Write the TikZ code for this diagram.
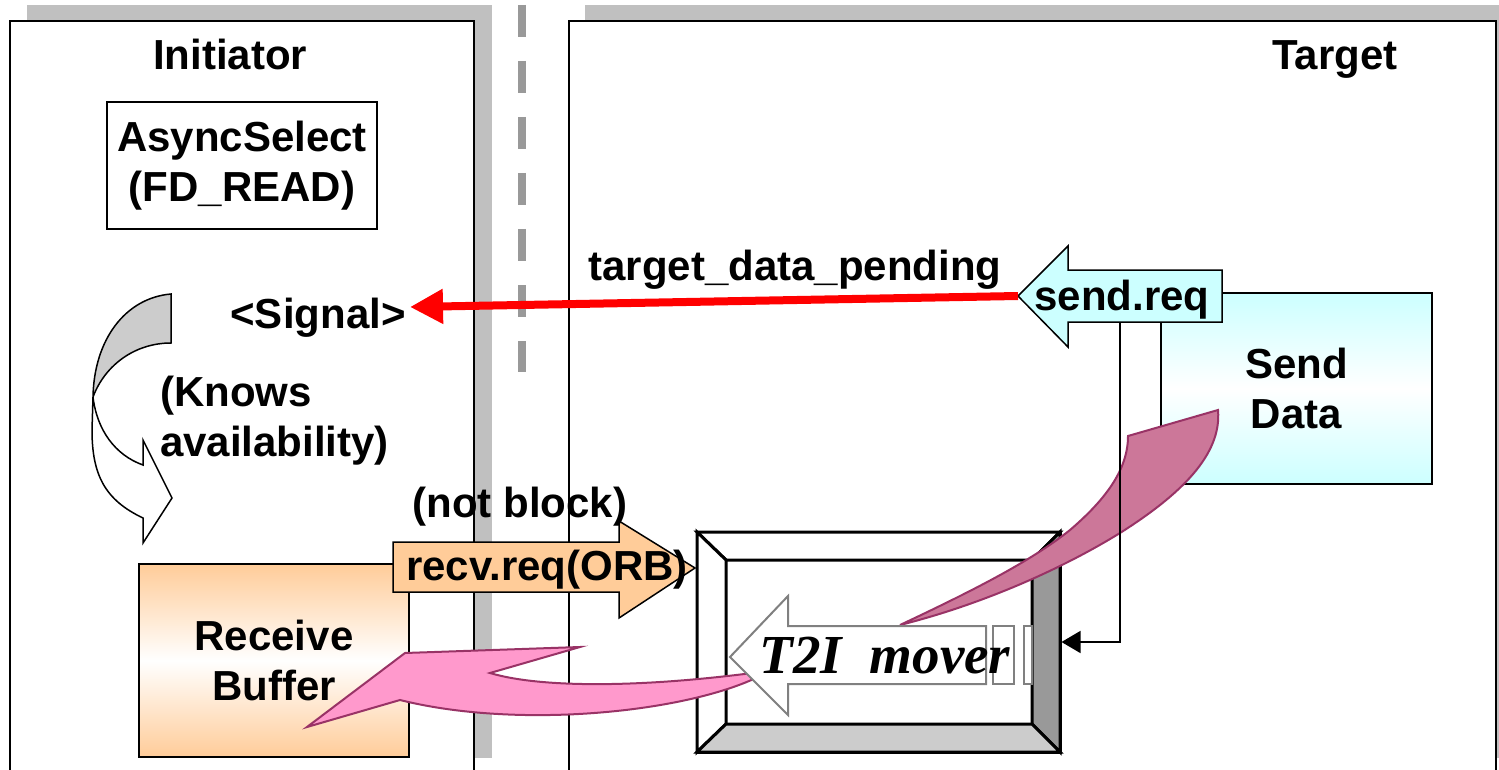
\documentclass[tikz,border=0pt]{standalone}
\usepackage{fontspec}
\setmainfont{Liberation Sans}
\newfontfamily\tmfont{Liberation Serif}
\usetikzlibrary{arrows.meta}
\definecolor{shadowgray}{HTML}{C0C0C0}
\definecolor{dashgray}{HTML}{999999}
\definecolor{bevdark}{HTML}{999999}
\definecolor{bevlight}{HTML}{CCCCCC}
\definecolor{cyanfill}{HTML}{CCFFFF}
\definecolor{orangefill}{HTML}{FFCC99}
\definecolor{mauve}{HTML}{CC7799}
\definecolor{pinkfill}{HTML}{FF99CC}
\definecolor{pinkline}{HTML}{993366}
\definecolor{arrowgray}{HTML}{808080}
\definecolor{sigred}{HTML}{FF0000}
\begin{document}
\begin{tikzpicture}[x=1pt,y=-1pt,
  lbl/.style={font=\fontsize{42}{50}\selectfont\bfseries, inner sep=0pt},
  panelbox/.style={draw=black, line width=1.8pt, fill=white},
  blockarrow/.style={draw=black, line width=1.5pt, line join=miter},
  swoosh/.style={draw=pinkline, line width=2pt},
  bevel/.style={draw=black, line width=3pt, line join=miter},
  gradbox/.style={lbl, draw=black, line width=1.8pt, align=center},
]
\useasboundingbox (0,0) rectangle (1499,770);
\clip (0,0) rectangle (1499,770);

% panels
\fill[shadowgray] (27,5) rectangle (492,758);
\draw[panelbox] (10,21) rectangle (474,800);
\fill[shadowgray] (585,5) rectangle (1520,758);
\draw[panelbox] (569,21) rectangle (1496,800);
\draw[dashgray, line width=8pt, dash pattern=on 32pt off 24pt] (522,5) -- (522,372);

% boxes
\node[lbl, draw=black, line width=1.5pt, minimum width=270pt, minimum height=127pt, align=center] (async) at (242,165.5) {AsyncSelect\\(FD\_READ)};
\node[gradbox, top color=cyanfill, bottom color=cyanfill, middle color=white, minimum width=271pt, minimum height=191pt] (senddata) at (1296.5,388.5) {Send\\Data};
\node[gradbox, top color=orangefill, bottom color=orangefill, middle color=white, minimum width=270pt, minimum height=193pt] (recvbuf) at (274,660.5) {Receive\\Buffer};

% T2I box with bevel
\node[draw=black, fill=white, line width=3pt, minimum width=363pt, minimum height=220pt, inner sep=0pt] (t2ibox) at (878.5,642) {};
\filldraw[bevel, fill=white] (697,532) -- (1060,532) -- (1032,560) -- (726,560) -- cycle;
\filldraw[bevel, fill=white] (697,532) -- (726,560) -- (726,724) -- (697,752) -- cycle;
\filldraw[bevel, fill=bevdark] (1060,532) -- (1060,752) -- (1032,724) -- (1032,560) -- cycle;
\filldraw[bevel, fill=bevlight] (697,752) -- (1060,752) -- (1032,724) -- (726,724) -- cycle;

% mauve swoosh from Send Data to T2I
\filldraw[swoosh, fill=mauve] (1128,436) -- (1218,410)
  .. controls (1222,455) and (1180,495) .. (1120,533)
  .. controls (1060,570) and (980,605) .. (900,625)
  .. controls (970,592) and (1030,562) .. (1070,530)
  .. controls (1105,500) and (1128,470) .. (1128,436) -- cycle;

% pink swoosh from T2I to Receive Buffer
\filldraw[swoosh, fill=pinkfill] (307,727) -- (405,653) -- (580,647) -- (490,673)
  .. controls (540,688) and (640,688) .. (760,672)
  -- (762,675)
  .. controls (690,712) and (520,730) .. (400,700) -- cycle;

% T2I mover block arrow
\filldraw[draw=arrowgray, fill=white, line width=2pt, line join=miter]
  (730,657) -- (788,596) -- (788,626) -- (986,626) -- (986,684) -- (788,684) -- (788,715) -- cycle;
\filldraw[draw=arrowgray, fill=white, line width=2pt] (993,626) rectangle (1014,684);
\filldraw[draw=arrowgray, fill=white, line width=2pt] (1024,626) rectangle (1032,684);

% recv.req block arrow
\filldraw[blockarrow, fill=orangefill]
  (393,542) -- (619,542) -- (619,521) -- (695,568) -- (619,618) -- (619,592) -- (393,592) -- cycle;

% send.req block arrow
\filldraw[blockarrow, fill=cyanfill]
  (1018,296) -- (1068,246) -- (1068,270) -- (1222,270) -- (1222,322) -- (1068,322) -- (1068,347) -- cycle;

% curved U-turn arrow (Initiator side)
\filldraw[draw=black, line width=1.5pt, fill=bevlight]
  (171,294) .. controls (125,298) and (94,340) .. (93,397)
  .. controls (105,365) and (135,343) .. (171,343) -- cycle;
\filldraw[draw=black, line width=1.5pt, fill=white, line join=miter]
  (93,397) .. controls (97,430) and (115,455) .. (143,465)
  -- (143,440) -- (172,498) -- (143,543) -- (143,518)
  .. controls (105,500) and (92,475) .. (92,430) -- cycle;

% connectors
\coordinate (sendtip) at (1018,296);
\coordinate (sigtip) at (410,307);
\coordinate (srbot) at (1120,322);
\draw[sigred, line width=8pt, -{Triangle[length=33pt,width=33pt]}] (sendtip) -- (sigtip);
\draw[black, line width=1.5pt, -{Triangle[length=19pt,width=22pt]}] (srbot) |- (t2ibox.east);

% texts
\node[lbl, anchor=base] (initiator) at (230,70) {Initiator};
\node[lbl, anchor=base] (target) at (1335,70) {Target};
\node[lbl, anchor=base] (signal) at (318,328) {<Signal>};
\node[lbl, anchor=north west, align=left] (knows) at (160,376) {(Knows\\availability)};
\node[lbl, anchor=base] (notblock) at (520,517) {(not block)};
\node[lbl, anchor=base] (tdp) at (795,280) {target\_data\_pending};
\node[lbl, anchor=base] (sendreq) at (1122,310) {send.req};
\node[lbl, anchor=base] (recvreq) at (547,580) {recv.req(ORB)};
\node[font=\tmfont\bfseries\itshape\fontsize{55}{60}\selectfont, inner sep=0pt, anchor=base] (t2itext) at (885,673) {T2I\ \ mover};
\end{tikzpicture}
\end{document}
